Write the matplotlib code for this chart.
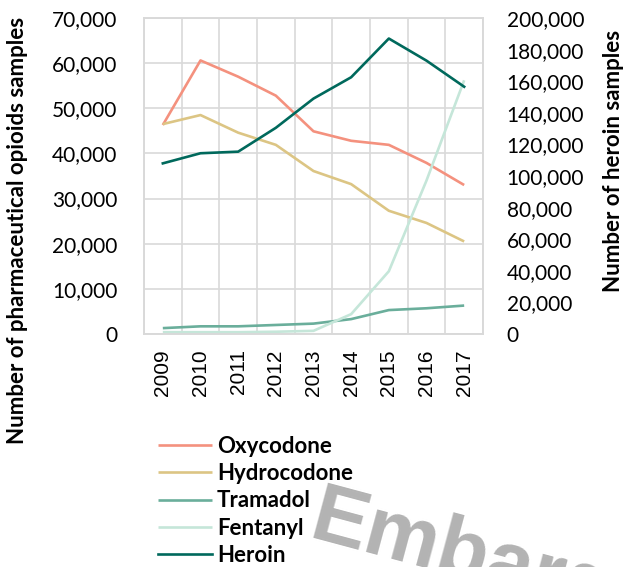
import numpy as np
import matplotlib
matplotlib.use('Agg')
import matplotlib.pyplot as plt
from matplotlib.ticker import FuncFormatter

years = ['2009', '2010', '2011', '2012', '2013', '2014', '2015', '2016', '2017']
oxycodone = [46300, 60600, 57000, 52800, 44900, 42800, 41900, 37900, 33000]
hydrocodone = [46500, 48500, 44600, 41900, 36100, 33200, 27300, 24600, 20500]
tramadol = [1300, 1700, 1700, 2000, 2300, 3300, 5300, 5700, 6300]
fentanyl = [400, 400, 400, 500, 700, 4400, 13900, 34000, 56200]
heroin = [108000, 114400, 115400, 130500, 149000, 162500, 187000, 173000, 156500]

series_left = [('Oxycodone', oxycodone, '#F4917E'),
               ('Hydrocodone', hydrocodone, '#DCC584'),
               ('Tramadol', tramadol, '#6AAE9B'),
               ('Fentanyl', fentanyl, '#C5E6D9')]
heroin_color = '#00695C'

fig = plt.figure(figsize=(6.23, 5.67), dpi=100)
ax = fig.add_axes([144/623, 1-334/567, (483-144)/623, (334-18)/567])
ax2 = ax.twinx()

x = np.arange(len(years))
handles = []
for name, vals, c in series_left:
    h, = ax.plot(x, vals, color=c, lw=1.9, label=name, solid_capstyle='butt')
    handles.append(h)
h, = ax2.plot(x, heroin, color=heroin_color, lw=1.9, label='Heroin')
handles.append(h)

ax.set_xlim(-0.5, 8.5)
ax.set_ylim(0, 70000)
ax2.set_ylim(0, 200000)
ax.set_yticks(np.arange(0, 70001, 10000))
ax2.set_yticks(np.arange(0, 200001, 20000))
fmt = FuncFormatter(lambda v, p: f'{int(v):,}')
ax.yaxis.set_major_formatter(fmt)
ax2.yaxis.set_major_formatter(fmt)

ax.set_xticks(x)
ax.set_xticklabels(years, rotation=90, fontsize=15, family='Liberation Sans')
ax.set_xticks(np.arange(-0.5, 9, 1), minor=True)
ax.grid(True, which='minor', axis='x', color='#d9d9d9', lw=1.2)
ax.grid(True, which='major', axis='y', color='#d9d9d9', lw=1.2)
ax.set_axisbelow(True)
ax.tick_params(axis='x', which='both', length=0, pad=11)
ax.tick_params(axis='y', length=0, pad=19, labelsize=15)
ax2.tick_params(axis='y', length=0, pad=17, labelsize=15)
for lab in ax.get_yticklabels() + ax2.get_yticklabels():
    lab.set_family('Lato')
for a in (ax, ax2):
    for s in a.spines.values():
        s.set_color('#d9d9d9')
        s.set_linewidth(1.2)

fig.text(18/623, 1-230/567, 'Number of pharmaceutical opioids samples', rotation=90,
         ha='center', va='center', fontsize=16, fontweight='bold', family='Lato')
fig.text(614/623, 1-161/567, 'Number of heroin samples', rotation=90,
         ha='center', va='center', fontsize=16, fontweight='bold', family='Lato')

# watermark
fig.text(307/623, 1-538/567, 'Embargoed', rotation=-15, fontsize=60, fontweight='bold',
         color='#b3b3b3', family='Liberation Sans', ha='left', va='baseline', zorder=1,
         rotation_mode='anchor')

leg = fig.legend(handles=handles, loc='upper left', bbox_to_anchor=(138/623, 1-416/567),
                 frameon=False, handlelength=2.45, handletextpad=0.2, labelspacing=0.28,
                 prop={'family': 'Lato', 'weight': 'bold', 'size': 16})
leg.set_zorder(5)

fig.savefig('out.png', dpi=100)
